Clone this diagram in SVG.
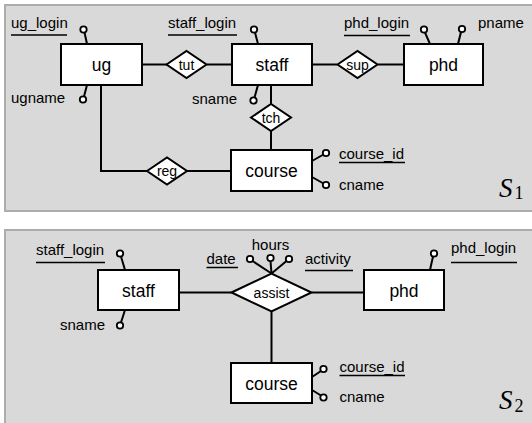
<svg xmlns="http://www.w3.org/2000/svg" width="532" height="423" viewBox="0 0 532 423">
<style>
.panel{fill:#d9d9d9;stroke:#acacac;stroke-width:2}
.box{fill:#fff;stroke:#000;stroke-width:2}
.dia{fill:#fff;stroke:#000;stroke-width:2;stroke-linejoin:miter}
.ln{fill:none;stroke:#000;stroke-width:2}
.ul{stroke:#000;stroke-width:1.5}
.lp{fill:#fff;stroke:#000;stroke-width:1.8}
.ent{font-family:"Liberation Sans",Arial,sans-serif;font-size:17.5px;text-anchor:middle;fill:#000}
.rel{font-family:"Liberation Sans",Arial,sans-serif;font-size:14px;text-anchor:middle;fill:#000}
.att{font-family:"Liberation Sans",Arial,sans-serif;font-size:15px;fill:#000}
.lab{font-family:"Liberation Serif","Times New Roman",serif;fill:#000}
</style>
<rect x="0" y="0" width="532" height="423" fill="#fff"/>
<rect class="panel" x="5" y="5" width="530" height="206"/>
<rect class="panel" x="5" y="230" width="530" height="200"/>

<g id="connectors">
  <!-- S1 -->
  <line class="ln" x1="142" y1="64.5" x2="167" y2="64.5"/>
  <line class="ln" x1="207" y1="64.5" x2="232" y2="64.5"/>
  <line class="ln" x1="312" y1="64.5" x2="337" y2="64.5"/>
  <line class="ln" x1="378" y1="64.5" x2="404" y2="64.5"/>
  <line class="ln" x1="271" y1="85" x2="271" y2="104"/>
  <line class="ln" x1="271" y1="131" x2="271" y2="150"/>
  <polyline class="ln" points="101,85 101,171 147,171"/>
  <line class="ln" x1="187" y1="171" x2="231" y2="171"/>
  <!-- S2 -->
  <line class="ln" x1="179" y1="292.5" x2="231.5" y2="292.5"/>
  <line class="ln" x1="311.5" y1="292.5" x2="364" y2="292.5"/>
  <line class="ln" x1="271.5" y1="311.5" x2="271.5" y2="363"/>
</g>

<!-- S1 entities -->
<g id="ug">
  <rect class="box" x="61" y="44" width="81" height="41"/>
  <text class="ent" x="101.5" y="70.5">ug</text>
</g>
<g id="staff1">
  <rect class="box" x="232" y="44" width="80" height="41"/>
  <text class="ent" x="272" y="70.5">staff</text>
</g>
<g id="phd1">
  <rect class="box" x="404" y="44" width="79" height="41"/>
  <text class="ent" x="443.5" y="70.5">phd</text>
</g>
<g id="course1">
  <rect class="box" x="231" y="150" width="81" height="41"/>
  <text class="ent" x="271.5" y="176.5">course</text>
</g>
<g id="tut">
  <polygon class="dia" points="166.5,64.5 186.5,51 206.5,64.5 186.5,78"/>
  <text class="rel" x="186.5" y="69.5">tut</text>
</g>
<g id="sup">
  <polygon class="dia" points="337.5,64.5 357.5,51 377.5,64.5 357.5,78"/>
  <text class="rel" x="357.5" y="69.5">sup</text>
</g>
<g id="tch">
  <polygon class="dia" points="251,117.5 271,104 291,117.5 271,131"/>
  <text class="rel" x="271" y="122.5">tch</text>
</g>
<g id="reg">
  <polygon class="dia" points="147,171 167,157.5 187,171 167,184.5"/>
  <text class="rel" x="167" y="176">reg</text>
</g>

<!-- S1 attributes -->
<g id="ug_login">
  <line class="ln" x1="87" y1="44" x2="84.5" y2="32.5"/>
  <circle class="lp" cx="83.5" cy="29.5" r="3.2"/>
  <text class="att" x="11" y="28">ug_login</text>
  <line class="ul" x1="11" y1="35" x2="67" y2="35"/>
</g>
<g id="ugname">
  <line class="ln" x1="87" y1="85" x2="84" y2="96.5"/>
  <circle class="lp" cx="83" cy="99.5" r="3.2"/>
  <text class="att" x="11" y="103">ugname</text>
</g>
<g id="staff_login1">
  <line class="ln" x1="258" y1="44" x2="255" y2="32.5"/>
  <circle class="lp" cx="254" cy="29.5" r="3.2"/>
  <text class="att" x="168" y="28">staff_login</text>
  <line class="ul" x1="168" y1="35" x2="237" y2="35"/>
</g>
<g id="sname1">
  <line class="ln" x1="258" y1="85" x2="254.5" y2="97.5"/>
  <circle class="lp" cx="253.5" cy="100.5" r="3.2"/>
  <text class="att" x="237" y="104" text-anchor="end">sname</text>
</g>
<g id="phd_login1">
  <line class="ln" x1="430" y1="44" x2="425" y2="32.5"/>
  <circle class="lp" cx="424" cy="29.5" r="3.2"/>
  <text class="att" x="344" y="28">phd_login</text>
  <line class="ul" x1="344" y1="35.5" x2="410" y2="35.5"/>
</g>
<g id="pname">
  <line class="ln" x1="458" y1="44" x2="461" y2="32"/>
  <circle class="lp" cx="462" cy="29" r="3.2"/>
  <text class="att" x="478" y="28">pname</text>
</g>
<g id="course_id1">
  <line class="ln" x1="312" y1="161" x2="323.5" y2="154.5"/>
  <circle class="lp" cx="326" cy="153" r="3.2"/>
  <text class="att" x="339" y="159">course_id</text>
  <line class="ul" x1="339" y1="162.5" x2="405" y2="162.5"/>
</g>
<g id="cname1">
  <line class="ln" x1="312" y1="177" x2="323.5" y2="183.5"/>
  <circle class="lp" cx="326" cy="185" r="3.2"/>
  <text class="att" x="339" y="190">cname</text>
</g>
<g id="label_S1">
  <text class="lab" x="499" y="197" font-size="27" font-style="italic">S</text>
  <text class="lab" x="514.5" y="198.5" font-size="18">1</text>
</g>

<!-- S2 -->
<g id="staff2">
  <rect class="box" x="98" y="270" width="81" height="40"/>
  <text class="ent" x="138.5" y="296.5">staff</text>
</g>
<g id="phd2">
  <rect class="box" x="364" y="270" width="80" height="40"/>
  <text class="ent" x="404" y="296.5">phd</text>
</g>
<g id="course2">
  <rect class="box" x="231" y="363" width="81" height="40"/>
  <text class="ent" x="271.5" y="389.5">course</text>
</g>
<g id="assist">
  <polygon class="dia" points="231.5,292.5 271.5,273.5 311.5,292.5 271.5,311.5"/>
  <text class="rel" x="271.5" y="298" font-size="15">assist</text>
</g>
<g id="staff_login2">
  <line class="ln" x1="125" y1="270" x2="121" y2="256.5"/>
  <circle class="lp" cx="120" cy="253.5" r="3.2"/>
  <text class="att" x="36" y="255">staff_login</text>
  <line class="ul" x1="36" y1="262.5" x2="105" y2="262.5"/>
</g>
<g id="sname2">
  <line class="ln" x1="125" y1="310" x2="121" y2="322.5"/>
  <circle class="lp" cx="120" cy="325.5" r="3.2"/>
  <text class="att" x="105" y="330" text-anchor="end">sname</text>
</g>
<g id="date">
  <line class="ln" x1="271.5" y1="273.5" x2="252.5" y2="261"/>
  <circle class="lp" cx="250" cy="259" r="3.2"/>
  <text class="att" x="206.5" y="263.5">date</text>
  <line class="ul" x1="206.5" y1="267.5" x2="238" y2="267.5"/>
</g>
<g id="hours">
  <line class="ln" x1="271.5" y1="273.5" x2="270.5" y2="261"/>
  <circle class="lp" cx="270.5" cy="258" r="3.2"/>
  <text class="att" x="270.5" y="250" text-anchor="middle">hours</text>
</g>
<g id="activity">
  <line class="ln" x1="271.5" y1="273.5" x2="286.5" y2="261"/>
  <circle class="lp" cx="289" cy="259" r="3.2"/>
  <text class="att" x="305" y="263.5">activity</text>
  <line class="ul" x1="305" y1="270.5" x2="353" y2="270.5"/>
</g>
<g id="phd_login2">
  <line class="ln" x1="430" y1="270" x2="433" y2="256.5"/>
  <circle class="lp" cx="434" cy="253.5" r="3.2"/>
  <text class="att" x="451" y="253">phd_login</text>
  <line class="ul" x1="451" y1="262.5" x2="517" y2="262.5"/>
</g>
<g id="course_id2">
  <line class="ln" x1="312" y1="377" x2="321" y2="371"/>
  <circle class="lp" cx="323.5" cy="369" r="3.2"/>
  <text class="att" x="339.5" y="372">course_id</text>
  <line class="ul" x1="339.5" y1="375.5" x2="405" y2="375.5"/>
</g>
<g id="cname2">
  <line class="ln" x1="312" y1="390" x2="321" y2="395.5"/>
  <circle class="lp" cx="323.5" cy="397.5" r="3.2"/>
  <text class="att" x="339.5" y="402">cname</text>
</g>
<g id="label_S2">
  <text class="lab" x="499" y="409" font-size="27" font-style="italic">S</text>
  <text class="lab" x="514.5" y="411.5" font-size="18">2</text>
</g>
</svg>
